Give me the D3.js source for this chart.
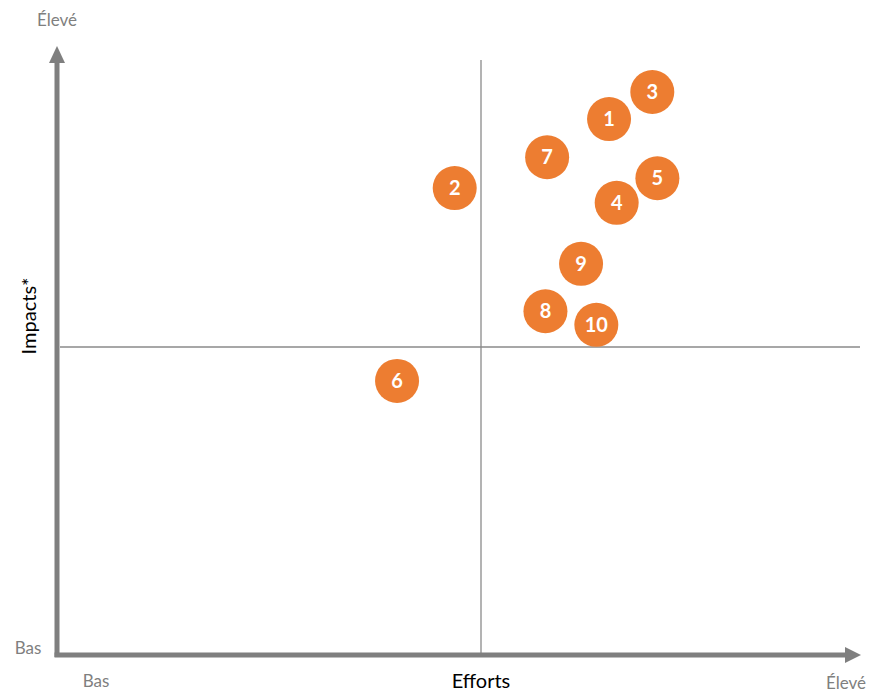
<!DOCTYPE html>
<html><head><meta charset="utf-8">
<script src="https://cdn.jsdelivr.net/npm/d3@7"></script>
<style>body{margin:0;background:#fff}svg{display:block}</style>
</head><body>
<svg id="c" width="871" height="693"></svg>
<script>
const labels = ["1","2","3","4","5","6","7","8","9","10"];
const effortValues = [6.51,4.69,7.02,6.60,7.08,4.01,5.78,5.76,6.18,6.36];
const impactValues = [8.70,7.58,9.14,7.34,7.74,4.45,8.08,5.58,6.35,5.36];
const axisLowLabel = "Bas";
const axisHighLabel = "Élevé";
const xTitle = "Efforts";
const yTitle = "Impacts*";

const svg = d3.select("#c");
const x = d3.scaleLinear().domain([0,10]).range([57,905]);
const y = d3.scaleLinear().domain([0,10]).range([655,39]);
const font = "Lato, 'Open Sans', sans-serif";
const gray = "#7f7f7f";

// quadrant lines
svg.append("line").attr("x1",x(5)).attr("x2",x(5)).attr("y1",60).attr("y2",655)
  .attr("stroke","#8a8a8a").attr("stroke-width",1.3);
svg.append("line").attr("x1",60).attr("x2",860).attr("y1",y(5)).attr("y2",y(5))
  .attr("stroke","#8a8a8a").attr("stroke-width",1.3);

// axes
svg.append("line").attr("x1",x(0)).attr("x2",x(0)).attr("y1",657).attr("y2",60)
  .attr("stroke",gray).attr("stroke-width",5);
svg.append("line").attr("x1",x(0)-2.5).attr("x2",846).attr("y1",y(0)).attr("y2",y(0))
  .attr("stroke",gray).attr("stroke-width",5);
svg.append("path").attr("d",`M${x(0)-8},63 L${x(0)},46 L${x(0)+8},63 Z`).attr("fill",gray);
svg.append("path").attr("d",`M845,${y(0)-8} L861,${y(0)} L845,${y(0)+8} Z`).attr("fill",gray);

// axis end labels
svg.append("text").attr("x",x(0)).attr("y",26).attr("text-anchor","middle")
  .attr("font-family",font).attr("font-size",17).attr("fill",gray).text(axisHighLabel);
svg.append("text").attr("x",28).attr("y",654).attr("text-anchor","middle")
  .attr("font-family",font).attr("font-size",17).attr("fill",gray).text(axisLowLabel);
svg.append("text").attr("x",96).attr("y",687).attr("text-anchor","middle")
  .attr("font-family",font).attr("font-size",17).attr("fill",gray).text(axisLowLabel);
svg.append("text").attr("x",846).attr("y",689).attr("text-anchor","middle")
  .attr("font-family",font).attr("font-size",17).attr("fill",gray).text(axisHighLabel);

// titles
svg.append("text").attr("x",x(5)).attr("y",688).attr("text-anchor","middle")
  .attr("font-family",font).attr("font-size",20).attr("fill","#000").text(xTitle);
svg.append("text").attr("transform","translate(36,316) rotate(-90)").attr("text-anchor","middle")
  .attr("font-family",font).attr("font-size",20).attr("fill","#000").text(yTitle);

// points
const data = labels.map((l,i)=>({l, e:effortValues[i], v:impactValues[i]}));
const g = svg.selectAll("g.pt").data(data).join("g").attr("class","pt")
  .attr("transform",d=>`translate(${x(d.e)},${y(d.v)})`);
g.append("circle").attr("r",22).attr("fill","#ED7D31");
g.append("text").attr("text-anchor","middle").attr("dy","0.36em")
  .attr("font-family",font).attr("font-weight","bold").attr("font-size",20)
  .attr("fill","#fff").text(d=>d.l);
</script>
</body></html>
